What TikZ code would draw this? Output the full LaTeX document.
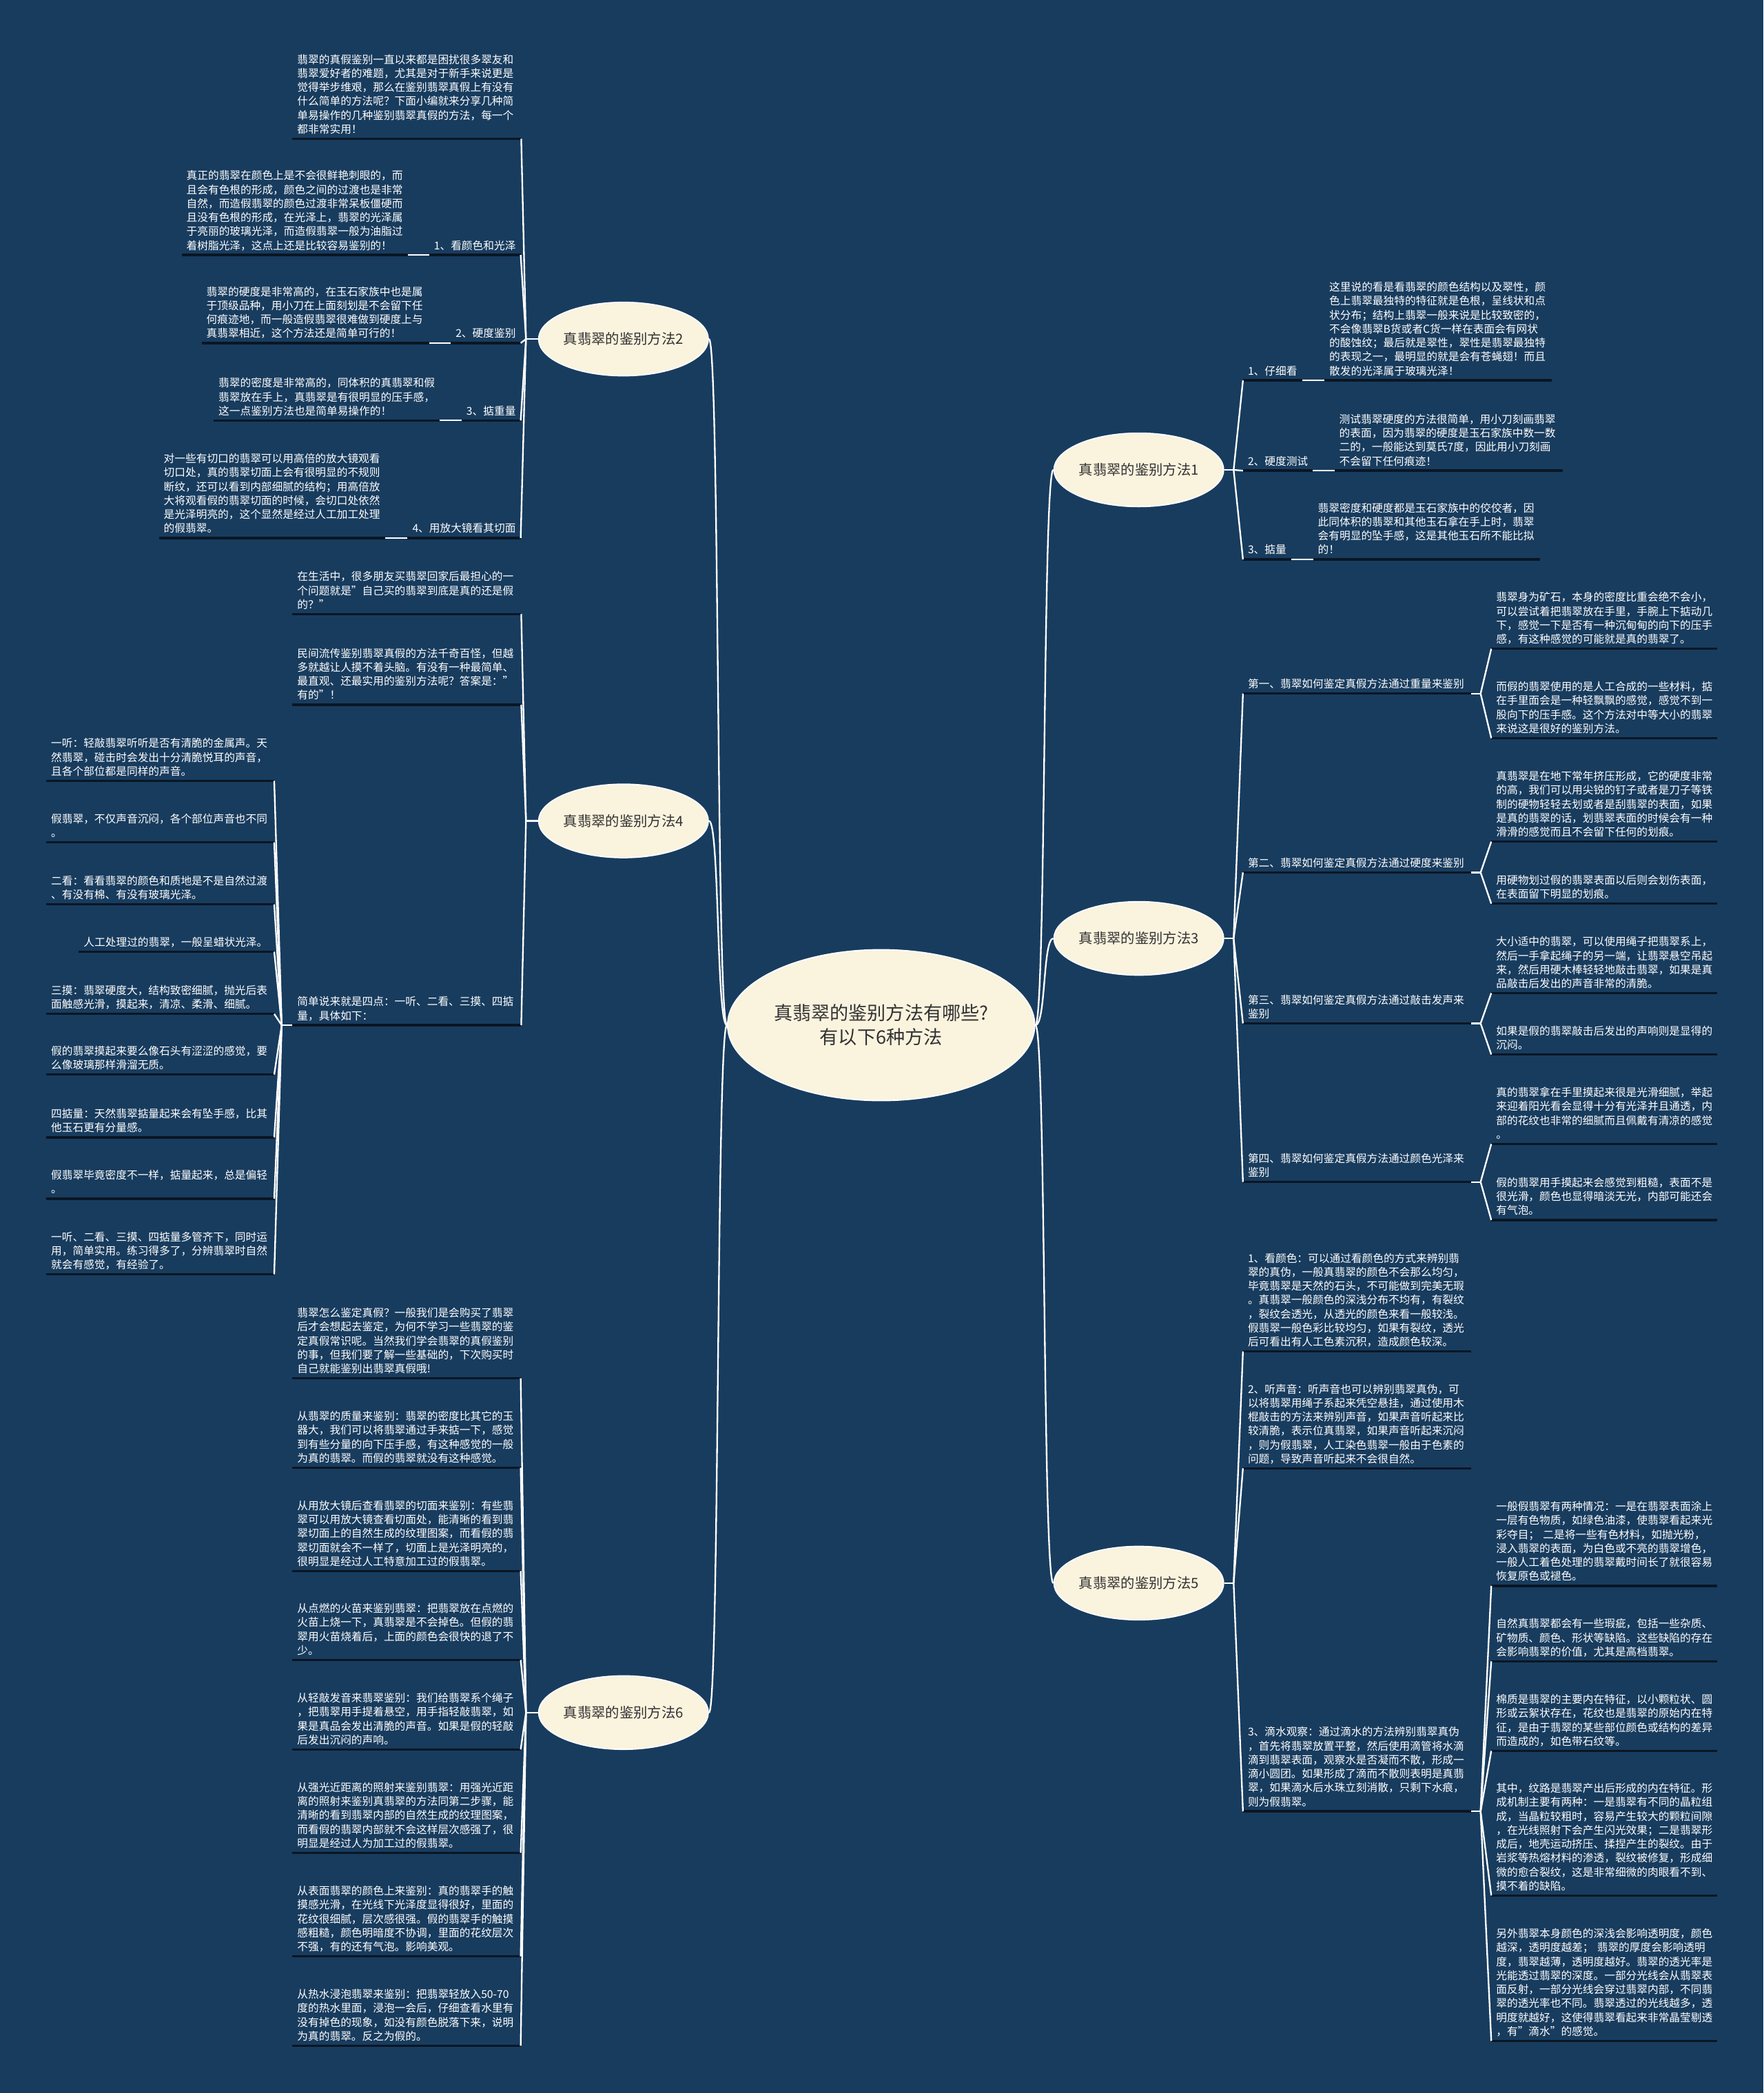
\documentclass[tikz,border=0pt]{standalone}
\usepackage{fontspec}
\setmainfont{Noto Sans CJK SC}
\usetikzlibrary{shapes.geometric,calc}
\definecolor{bgc}{RGB}{24,60,94}
\definecolor{ulc}{RGB}{10,22,36}
\definecolor{cream}{RGB}{250,243,222}
\definecolor{inkc}{RGB}{50,50,50}
\tikzset{
  txt/.style={font=\fontsize{8.1}{10.45}\selectfont, text=white, align=left, inner xsep=3.5pt, inner ysep=0.8pt, anchor=south west, execute at end node={\strut}},
  lbl/.style={font=\fontsize{8.1}{10.45}\selectfont, text=white, inner xsep=3.5pt, inner ysep=0.8pt, anchor=south east, execute at end node={\strut}},
  rlbl/.style={lbl, anchor=south west},
  uline/.style={draw=ulc, line width=1.8pt},
  conn/.style={draw=white, line width=1.2pt},
  centre/.style={ellipse, fill=cream, draw=white, line width=1pt, text=inkc, minimum width=230pt, minimum height=113pt, inner sep=0pt, align=center, font=\fontsize{14}{18}\selectfont},
  branch/.style={ellipse, fill=cream, draw=white, line width=1pt, text=inkc, minimum width=127pt, minimum height=55pt, inner sep=0pt, font=\fontsize{10.5}{13}\selectfont}
}
\newcommand\mmul[1]{\draw[uline] (#1.south west) -- (#1.south east);}
\begin{document}
\begin{tikzpicture}[x=1pt,y=-1pt]
\fill[bgc] (0,0) rectangle (1321,1568);

% ---------- centre and branches
\node[centre] (c) at (660,768) {真翡翠的鉴别方法有哪些?\\有以下6种方法};
\node[branch] (m2) at (467,254) {真翡翠的鉴别方法2};
\node[branch] (m4) at (467,615) {真翡翠的鉴别方法4};
\node[branch] (m6) at (467,1283) {真翡翠的鉴别方法6};
\node[branch] (m1) at (853,352) {真翡翠的鉴别方法1};
\node[branch] (m3) at (853,703) {真翡翠的鉴别方法3};
\node[branch] (m5) at (853,1186) {真翡翠的鉴别方法5};

% ---------- method 2
\node[txt, text width=164pt] (m2i) at (219,104) {翡翠的真假鉴别一直以来都是困扰很多翠友和\\翡翠爱好者的难题，尤其是对于新手来说更是\\觉得举步维艰，那么在鉴别翡翠真假上有没有\\什么简单的方法呢？下面小编就来分享几种简\\单易操作的几种鉴别翡翠真假的方法，每一个\\都非常实用！};
\node[lbl] (m2l1) at (390,191) {1、看颜色和光泽};
\node[txt, text width=162pt] (m2d1) at (136,191) {真正的翡翠在颜色上是不会很鲜艳刺眼的，而\\且会有色根的形成，颜色之间的过渡也是非常\\自然，而造假翡翠的颜色过渡非常呆板僵硬而\\且没有色根的形成，在光泽上，翡翠的光泽属\\于亮丽的玻璃光泽，而造假翡翠一般为油脂过\\着树脂光泽，这点上还是比较容易鉴别的！};
\node[lbl] (m2l2) at (390,257) {2、硬度鉴别};
\node[txt, text width=163pt] (m2d2) at (151,257) {翡翠的硬度是非常高的，在玉石家族中也是属\\于顶级品种，用小刀在上面刻划是不会留下任\\何痕迹地，而一般造假翡翠很难做到硬度上与\\真翡翠相近，这个方法还是简单可行的！};
\node[lbl] (m2l3) at (390,315) {3、掂重量};
\node[txt, text width=162pt] (m2d3) at (160,315) {翡翠的密度是非常高的，同体积的真翡翠和假\\翡翠放在手上，真翡翠是有很明显的压手感，\\这一点鉴别方法也是简单易操作的！};
\node[lbl] (m2l4) at (390,403) {4、用放大镜看其切面};
\node[txt, text width=162pt] (m2d4) at (119,403) {对一些有切口的翡翠可以用高倍的放大镜观看\\切口处，真的翡翠切面上会有很明显的不规则\\断纹，还可以看到内部细腻的结构；用高倍放\\大将观看假的翡翠切面的时候，会切口处依然\\是光泽明亮的，这个显然是经过人工加工处理\\的假翡翠。};

% ---------- method 4
\node[txt, text width=164pt] (m4i1) at (219,460) {在生活中，很多朋友买翡翠回家后最担心的一\\个问题就是"自己买的翡翠到底是真的还是假\\的？"};
\node[txt, text width=164pt] (m4i2) at (219,528) {民间流传鉴别翡翠真假的方法千奇百怪，但越\\多就越让人摸不着头脑。有没有一种最简单、\\最直观、还最实用的鉴别方法呢？答案是："\\有的"！};
\node[txt, text width=164pt] (m4l) at (219,768) {简单说来就是四点：一听、二看、三摸、四掂\\量，具体如下：};
\node[txt, text width=163.4pt] (m4a) at (34.6,585) {一听：轻敲翡翠听听是否有清脆的金属声。天\\然翡翠，碰击时会发出十分清脆悦耳的声音，\\且各个部位都是同样的声音。};
\node[txt, text width=163.4pt] (m4b) at (34.6,631) {假翡翠，不仅声音沉闷，各个部位声音也不同\\。};
\node[txt, text width=163.4pt] (m4c) at (34.6,677.5) {二看：看看翡翠的颜色和质地是不是自然过渡\\、有没有棉、有没有玻璃光泽。};
\node[txt, text width=139pt] (m4d) at (59,713) {人工处理过的翡翠，一般呈蜡状光泽。};
\node[txt, text width=163.4pt] (m4e) at (34.6,759.6) {三摸：翡翠硬度大，结构致密细腻，抛光后表\\面触感光滑，摸起来，清凉、柔滑、细腻。};
\node[txt, text width=163.4pt] (m4f) at (34.6,805) {假的翡翠摸起来要么像石头有涩涩的感觉，要\\么像玻璃那样滑溜无质。};
\node[txt, text width=163.4pt] (m4g) at (34.6,852) {四掂量：天然翡翠掂量起来会有坠手感，比其\\他玉石更有分量感。};
\node[txt, text width=163.4pt] (m4h) at (34.6,898) {假翡翠毕竟密度不一样，掂量起来，总是偏轻\\。};
\node[txt, text width=163.4pt] (m4k) at (34.6,954.6) {一听、二看、三摸、四掂量多管齐下，同时运\\用，简单实用。练习得多了，分辨翡翠时自然\\就会有感觉，有经验了。};

% ---------- method 6
\node[txt, text width=163.6pt] (m6a) at (219,1032.6) {翡翠怎么鉴定真假？一般我们是会购买了翡翠\\后才会想起去鉴定，为何不学习一些翡翠的鉴\\定真假常识呢。当然我们学会翡翠的真假鉴别\\的事，但我们要了解一些基础的，下次购买时\\自己就能鉴别出翡翠真假哦!};
\node[txt, text width=163.6pt] (m6b) at (219,1099.6) {从翡翠的质量来鉴别：翡翠的密度比其它的玉\\器大，我们可以将翡翠通过手来掂一下，感觉\\到有些分量的向下压手感，有这种感觉的一般\\为真的翡翠。而假的翡翠就没有这种感觉。};
\node[txt, text width=163.6pt] (m6c) at (219,1177) {从用放大镜后查看翡翠的切面来鉴别：有些翡\\翠可以用放大镜查看切面处，能清晰的看到翡\\翠切面上的自然生成的纹理图案，而看假的翡\\翠切面就会不一样了，切面上是光泽明亮的，\\很明显是经过人工特意加工过的假翡翠。};
\node[txt, text width=163.6pt] (m6d) at (219,1243.6) {从点燃的火苗来鉴别翡翠：把翡翠放在点燃的\\火苗上烧一下，真翡翠是不会掉色。但假的翡\\翠用火苗烧着后，上面的颜色会很快的退了不\\少。};
\node[txt, text width=163.6pt] (m6e) at (219,1310.6) {从轻敲发音来翡翠鉴别：我们给翡翠系个绳子\\，把翡翠用手提着悬空，用手指轻敲翡翠，如\\果是真品会发出清脆的声音。如果是假的轻敲\\后发出沉闷的声响。};
\node[txt, text width=163.6pt] (m6f) at (219,1388) {从强光近距离的照射来鉴别翡翠：用强光近距\\离的照射来鉴别真翡翠的方法同第二步骤，能\\清晰的看到翡翠内部的自然生成的纹理图案，\\而看假的翡翠内部就不会这样层次感强了，很\\明显是经过人为加工过的假翡翠。};
\node[txt, text width=163.6pt] (m6g) at (219,1465.6) {从表面翡翠的颜色上来鉴别：真的翡翠手的触\\摸感光滑，在光线下光泽度显得很好，里面的\\花纹很细腻，层次感很强。假的翡翠手的触摸\\感粗糙，颜色明暗度不协调，里面的花纹层次\\不强，有的还有气泡。影响美观。};
\node[txt, text width=163.6pt] (m6h) at (219,1532.6) {从热水浸泡翡翠来鉴别：把翡翠轻放入50-70\\度的热水里面，浸泡一会后，仔细查看水里有\\没有掉色的现象，如没有颜色脱落下来，说明\\为真的翡翠。反之为假的。};

% ---------- method 1
\node[rlbl] (m1l1) at (931,285) {1、仔细看};
\node[txt, text width=163pt] (m1d1) at (992,285) {这里说的看是看翡翠的颜色结构以及翠性，颜\\色上翡翠最独特的特征就是色根，呈线状和点\\状分布；结构上翡翠一般来说是比较致密的，\\不会像翡翠B货或者C货一样在表面会有网状\\的酸蚀纹；最后就是翠性，翠性是翡翠最独特\\的表现之一，最明显的就是会有苍蝇翅！而且\\散发的光泽属于玻璃光泽！};
\node[rlbl] (m1l2) at (931,352.6) {2、硬度测试};
\node[txt, text width=163.5pt] (m1d2) at (999.5,352.6) {测试翡翠硬度的方法很简单，用小刀刻画翡翠\\的表面，因为翡翠的硬度是玉石家族中数一数\\二的，一般能达到莫氏7度，因此用小刀刻画\\不会留下任何痕迹！};
\node[rlbl] (m1l3) at (931,419) {3、掂量};
\node[txt, text width=162.5pt] (m1d3) at (983.5,419) {翡翠密度和硬度都是玉石家族中的佼佼者，因\\此同体积的翡翠和其他玉石拿在手上时，翡翠\\会有明显的坠手感，这是其他玉石所不能比拟\\的！};

% ---------- method 3
\node[txt, text width=163.6pt] (m3l1) at (931,519.6) {第一、翡翠如何鉴定真假方法通过重量来鉴别};
\node[txt, text width=162pt] (m3d1a) at (1117,486) {翡翠身为矿石，本身的密度比重会绝不会小，\\可以尝试着把翡翠放在手里，手腕上下掂动几\\下，感觉一下是否有一种沉甸甸的向下的压手\\感，有这种感觉的可能就是真的翡翠了。};
\node[txt, text width=162pt] (m3d1b) at (1117,553) {而假的翡翠使用的是人工合成的一些材料，掂\\在手里面会是一种轻飘飘的感觉，感觉不到一\\股向下的压手感。这个方法对中等大小的翡翠\\来说这是很好的鉴别方法。};
\node[txt, text width=163.6pt] (m3l2) at (931,653.6) {第二、翡翠如何鉴定真假方法通过硬度来鉴别};
\node[txt, text width=162pt] (m3d2a) at (1117,630.5) {真翡翠是在地下常年挤压形成，它的硬度非常\\的高，我们可以用尖锐的钉子或者是刀子等铁\\制的硬物轻轻去划或者是刮翡翠的表面，如果\\是真的翡翠的话，划翡翠表面的时候会有一种\\滑滑的感觉而且不会留下任何的划痕。};
\node[txt, text width=162pt] (m3d2b) at (1117,677) {用硬物划过假的翡翠表面以后则会划伤表面，\\在表面留下明显的划痕。};
\node[txt, text width=163.6pt] (m3l3) at (931,766.7) {第三、翡翠如何鉴定真假方法通过敲击发声来\\鉴别};
\node[txt, text width=162pt] (m3d3a) at (1117,744) {大小适中的翡翠，可以使用绳子把翡翠系上，\\然后一手拿起绳子的另一端，让翡翠悬空吊起\\来，然后用硬木棒轻轻地敲击翡翠，如果是真\\品敲击后发出的声音非常的清脆。};
\node[txt, text width=162pt] (m3d3b) at (1117,790) {如果是假的翡翠敲击后发出的声响则是显得的\\沉闷。};
\node[txt, text width=163.6pt] (m3l4) at (931,885.5) {第四、翡翠如何鉴定真假方法通过颜色光泽来\\鉴别};
\node[txt, text width=162pt] (m3d4a) at (1117,857) {真的翡翠拿在手里摸起来很是光滑细腻，举起\\来迎着阳光看会显得十分有光泽并且通透，内\\部的花纹也非常的细腻而且佩戴有清凉的感觉\\。};
\node[txt, text width=162pt] (m3d4b) at (1117,914) {假的翡翠用手摸起来会感觉到粗糙，表面不是\\很光滑，颜色也显得暗淡无光，内部可能还会\\有气泡。};

% ---------- method 5
\node[txt, text width=163.6pt] (m5t1) at (931,1012.4) {1、看颜色：可以通过看颜色的方式来辨别翡\\翠的真伪，一般真翡翠的颜色不会那么均匀，\\毕竟翡翠是天然的石头，不可能做到完美无瑕\\。真翡翠一般颜色的深浅分布不均有，有裂纹\\，裂纹会透光，从透光的颜色来看一般较浅。\\假翡翠一般色彩比较均匀，如果有裂纹，透光\\后可看出有人工色素沉积，造成颜色较深。};
\node[txt, text width=163.6pt] (m5t2) at (931,1100) {2、听声音：听声音也可以辨别翡翠真伪，可\\以将翡翠用绳子系起来凭空悬挂，通过使用木\\棍敲击的方法来辨别声音，如果声音听起来比\\较清脆，表示位真翡翠，如果声音听起来沉闷\\，则为假翡翠，人工染色翡翠一般由于色素的\\问题，导致声音听起来不会很自然。};
\node[txt, text width=163.6pt] (m5t3) at (931,1357) {3、滴水观察：通过滴水的方法辨别翡翠真伪\\，首先将翡翠放置平整，然后使用滴管将水滴\\滴到翡翠表面，观察水是否凝而不散，形成一\\滴小圆团。如果形成了滴而不散则表明是真翡\\翠，如果滴水后水珠立刻消散，只剩下水痕，\\则为假翡翠。};
\node[txt, text width=162pt] (m5da) at (1117,1188) {一般假翡翠有两种情况：一是在翡翠表面涂上\\一层有色物质，如绿色油漆，使翡翠看起来光\\彩夺目；~二是将一些有色材料，如抛光粉，\\浸入翡翠的表面，为白色或不亮的翡翠增色，\\一般人工着色处理的翡翠戴时间长了就很容易\\恢复原色或褪色。};
\node[txt, text width=162pt] (m5db) at (1117,1244.6) {自然真翡翠都会有一些瑕疵，包括一些杂质、\\矿物质、颜色、形状等缺陷。这些缺陷的存在\\会影响翡翠的价值，尤其是高档翡翠。};
\node[txt, text width=162pt] (m5dc) at (1117,1311.7) {棉质是翡翠的主要内在特征，以小颗粒状、圆\\形或云絮状存在，花纹也是翡翠的原始内在特\\征，是由于翡翠的某些部位颜色或结构的差异\\而造成的，如色带石纹等。};
\node[txt, text width=162pt] (m5dd) at (1117,1420) {其中，纹路是翡翠产出后形成的内在特征。形\\成机制主要有两种：一是翡翠有不同的晶粒组\\成，当晶粒较粗时，容易产生较大的颗粒间隙\\，在光线照射下会产生闪光效果；二是翡翠形\\成后，地壳运动挤压、揉捏产生的裂纹。由于\\岩浆等热熔材料的渗透，裂纹被修复，形成细\\微的愈合裂纹，这是非常细微的肉眼看不到、\\摸不着的缺陷。};
\node[txt, text width=162pt] (m5de) at (1117,1529) {另外翡翠本身颜色的深浅会影响透明度，颜色\\越深，透明度越差；~翡翠的厚度会影响透明\\度，翡翠越薄，透明度越好。翡翠的透光率是\\光能透过翡翠的深度。一部分光线会从翡翠表\\面反射，一部分光线会穿过翡翠内部，不同翡\\翠的透光率也不同。翡翠透过的光线越多，透\\明度就越好，这使得翡翠看起来非常晶莹剔透\\，有"滴水"的感觉。};

% ---------- underlines
\foreach \n in {m2i,m2l1,m2d1,m2l2,m2d2,m2l3,m2d3,m2l4,m2d4,
  m4i1,m4i2,m4l,m4a,m4b,m4c,m4d,m4e,m4f,m4g,m4h,m4k,
  m6a,m6b,m6c,m6d,m6e,m6f,m6g,m6h,
  m1l1,m1d1,m1l2,m1d2,m1l3,m1d3,
  m3l1,m3d1a,m3d1b,m3l2,m3d2a,m3d2b,m3l3,m3d3a,m3d3b,m3l4,m3d4a,m3d4b,
  m5t1,m5t2,m5t3,m5da,m5db,m5dc,m5dd,m5de}{\mmul{\n}}

% ---------- centre to branches
\foreach \b in {m2,m4,m6}
  \draw[conn] (c.west) .. controls ($(c.west)+(-8,0)$) and ($(\b.east)+(8,0)$) .. (\b.east);
\foreach \b in {m1,m3,m5}
  \draw[conn] (c.east) .. controls ($(c.east)+(8,0)$) and ($(\b.west)+(-8,0)$) .. (\b.west);

% ---------- left branches
\draw[conn] (m2.west) -- ++(-9,0) coordinate (j2);
\foreach \n in {m2i,m2l1,m2l2,m2l3,m2l4} \draw[conn] (j2) -- (\n.south east);
\foreach \a/\b in {m2l1/m2d1,m2l2/m2d2,m2l3/m2d3,m2l4/m2d4} \draw[conn] (\a.south west) -- (\b.south east);

\draw[conn] (m4.west) -- ++(-9,0) coordinate (j4);
\foreach \n in {m4i1,m4i2,m4l} \draw[conn] (j4) -- (\n.south east);
\draw[conn] (m4l.south west) -- ++(-8,0) coordinate (f4);
\foreach \n in {m4a,m4b,m4c,m4d,m4e,m4f,m4g,m4h,m4k} \draw[conn] (f4) -- (\n.south east);

\draw[conn] (m6.west) -- ++(-9,0) coordinate (j6);
\foreach \n in {m6a,m6b,m6c,m6d,m6e,m6f,m6g,m6h} \draw[conn] (j6) -- (\n.south east);

% ---------- right branches
\draw[conn] (m1.east) -- ++(7,0) coordinate (j1);
\foreach \n in {m1l1,m1l2,m1l3} \draw[conn] (j1) -- (\n.south west);
\foreach \a/\b in {m1l1/m1d1,m1l2/m1d2,m1l3/m1d3} \draw[conn] (\a.south east) -- (\b.south west);

\draw[conn] (m3.east) -- ++(7,0) coordinate (j3);
\foreach \n in {m3l1,m3l2,m3l3,m3l4} \draw[conn] (j3) -- (\n.south west);
\foreach \l/\p/\q in {m3l1/m3d1a/m3d1b,m3l2/m3d2a/m3d2b,m3l3/m3d3a/m3d3b,m3l4/m3d4a/m3d4b}{
  \draw[conn] (\l.south east) -- ++(7,0) coordinate (f\l);
  \draw[conn] (f\l) -- (\p.south west);
  \draw[conn] (f\l) -- (\q.south west);
}

\draw[conn] (m5.east) -- ++(7,0) coordinate (j5);
\foreach \n in {m5t1,m5t2,m5t3} \draw[conn] (j5) -- (\n.south west);
\draw[conn] (m5t3.south east) -- ++(7,0) coordinate (f5);
\foreach \n in {m5da,m5db,m5dc,m5dd,m5de} \draw[conn] (f5) -- (\n.south west);
\end{tikzpicture}
\end{document}
